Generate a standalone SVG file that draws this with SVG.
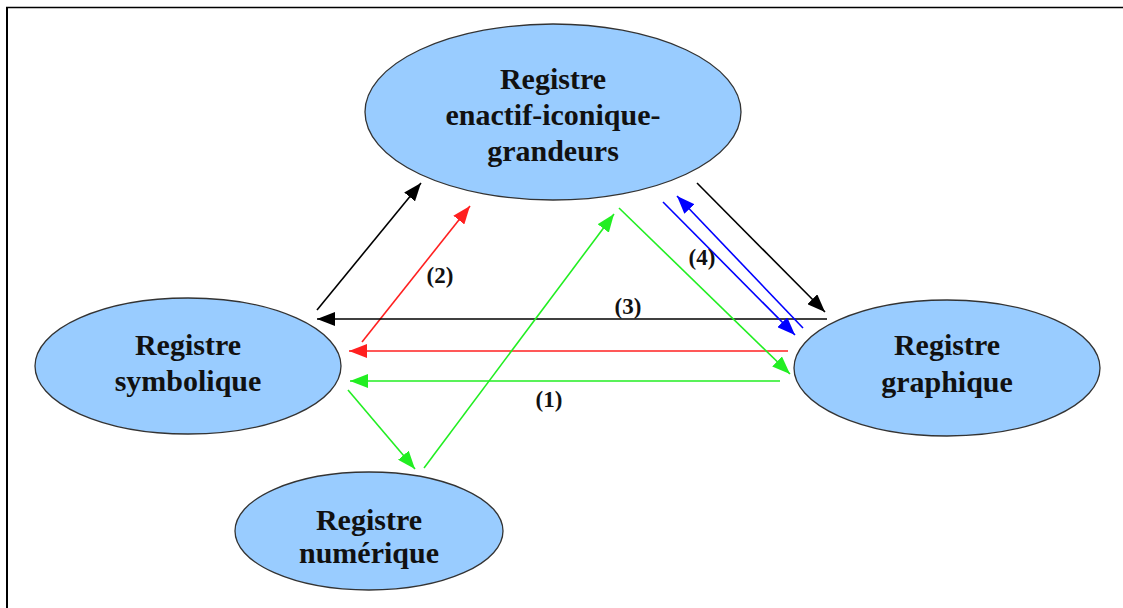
<svg xmlns="http://www.w3.org/2000/svg" width="1123" height="608" viewBox="0 0 1123 608">
<style>
.node ellipse{fill:#99CCFF;stroke:#333;stroke-width:1.3}
.node text,.lbl{font-family:"Liberation Serif","Times New Roman",serif;font-weight:bold;fill:#111;text-anchor:middle}
.node text{font-size:30px}
.lbl{font-size:23px}
.c line{stroke-width:1.6;fill:none}
.k{stroke:#000}
.r{stroke:#FF2020}
.g{stroke:#22EE22}
.b{stroke:#0000FF}
</style>
<defs>
<marker id="ak" viewBox="0 0 18 14" refX="18" refY="7" markerWidth="18" markerHeight="14" markerUnits="userSpaceOnUse" orient="auto"><path d="M0,0 L18,7 L0,14 z" fill="#000"/></marker>
<marker id="ar" viewBox="0 0 18 14" refX="18" refY="7" markerWidth="18" markerHeight="14" markerUnits="userSpaceOnUse" orient="auto"><path d="M0,0 L18,7 L0,14 z" fill="#FF2020"/></marker>
<marker id="ag" viewBox="0 0 18 14" refX="18" refY="7" markerWidth="18" markerHeight="14" markerUnits="userSpaceOnUse" orient="auto"><path d="M0,0 L18,7 L0,14 z" fill="#22EE22"/></marker>
<marker id="ab" viewBox="0 0 18 14" refX="18" refY="7" markerWidth="18" markerHeight="14" markerUnits="userSpaceOnUse" orient="auto"><path d="M0,0 L18,7 L0,14 z" fill="#0000FF"/></marker>
</defs>
<rect width="1123" height="608" fill="#fff"/>
<g id="frame" stroke="#000" fill="none">
<line x1="6" y1="7.5" x2="1123" y2="7.5" stroke-width="1.5"/>
<line x1="7" y1="7" x2="7" y2="608" stroke-width="2"/>
</g>
<g id="n-top" class="node">
<ellipse cx="553" cy="112" rx="188" ry="88"/>
<text x="553" y="89">Registre</text>
<text x="553" y="125">enactif-iconique-</text>
<text x="553" y="161">grandeurs</text>
</g>
<g id="n-sym" class="node">
<ellipse cx="188" cy="366" rx="153" ry="68"/>
<text x="188" y="355">Registre</text>
<text x="188" y="391">symbolique</text>
</g>
<g id="n-gra" class="node">
<ellipse cx="947" cy="368" rx="153" ry="68"/>
<text x="947" y="355">Registre</text>
<text x="947" y="392">graphique</text>
</g>
<g id="n-num" class="node">
<ellipse cx="369" cy="531" rx="134" ry="59"/>
<text x="369" y="530">Registre</text>
<text x="369" y="563">numérique</text>
</g>
<g id="connectors" class="c">
<line class="k" x1="317" y1="310" x2="421" y2="183" marker-end="url(#ak)"/>
<line class="r" x1="362" y1="342" x2="470" y2="206" marker-end="url(#ar)"/>
<line class="k" x1="827" y1="319" x2="317" y2="319" marker-end="url(#ak)"/>
<line class="k" x1="697" y1="183" x2="825" y2="312" marker-end="url(#ak)"/>
<line class="b" x1="663" y1="202" x2="795" y2="335" marker-end="url(#ab)"/>
<line class="b" x1="803" y1="328" x2="677" y2="196" marker-end="url(#ab)"/>
<line class="r" x1="788" y1="351" x2="349" y2="351" marker-end="url(#ar)"/>
<line class="g" x1="780" y1="381" x2="350" y2="381" marker-end="url(#ag)"/>
<line class="g" x1="619" y1="208" x2="790" y2="374" marker-end="url(#ag)"/>
<line class="g" x1="348" y1="390" x2="415" y2="469" marker-end="url(#ag)"/>
<line class="g" x1="424" y1="468" x2="614" y2="214" marker-end="url(#ag)"/>
</g>
<g id="labels">
<text class="lbl" x="549" y="407">(1)</text>
<text class="lbl" x="440" y="283">(2)</text>
<text class="lbl" x="628" y="314">(3)</text>
<text class="lbl" x="702" y="265">(4)</text>
</g>
</svg>
